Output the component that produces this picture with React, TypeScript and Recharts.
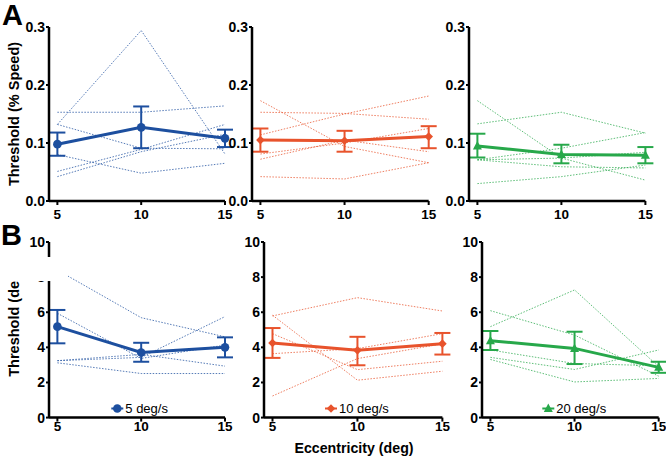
import { LineChart, Line, XAxis, YAxis, ErrorBar } from 'recharts';

// eccentricity (deg) and axis ticks
const eccentricities = [5, 10, 15];
const pctTicks = [0, 0.1, 0.2, 0.3];
const degTicks = [0, 2, 4, 6, 8, 10];

// A: threshold (% speed) — mean, error bar ends, single observers
const pctMean5 = [0.098, 0.127, 0.108];
const pctLow5 = [0.078, 0.091, 0.093];
const pctHigh5 = [0.118, 0.163, 0.123];
const pctSubj5 = [
  [0.153, 0.153, 0.164],
  [0.132, 0.294, 0.081],
  [0.132, 0.091, 0.09],
  [0.08, 0.048, 0.065],
  [0.051, 0.089, 0.132],
  [0.042, 0.085, 0.115],
];

const pctMean10 = [0.105, 0.104, 0.111];
const pctLow10 = [0.085, 0.085, 0.091];
const pctHigh10 = [0.125, 0.121, 0.129];
const pctSubj10 = [
  [0.173, 0.094, 0.066],
  [0.153, 0.151, 0.141],
  [0.114, 0.15, 0.181],
  [0.081, 0.1, 0.125],
  [0.072, 0.105, 0.085],
  [0.042, 0.038, 0.066],
];

const pctMean20 = [0.095, 0.08, 0.079];
const pctLow20 = [0.075, 0.065, 0.065];
const pctHigh20 = [0.116, 0.097, 0.093];
const pctSubj20 = [
  [0.173, 0.074, 0.036],
  [0.133, 0.153, 0.117],
  [0.071, 0.091, 0.118],
  [0.071, 0.074, 0.084],
  [0.071, 0.059, 0.057],
  [0.03, 0.042, 0.062],
];

// B: threshold (deg)
const degMean5 = [5.18, 3.71, 4.0];
const degLow5 = [4.23, 3.18, 3.43];
const degHigh5 = [6.13, 4.26, 4.57];
const degSubj5 = [
  [8.4, 5.69, 4.6],
  [5.94, 3.37, 4.13],
  [3.24, 3.43, 5.75],
  [3.24, 3.6, 2.93],
  [3.12, 2.51, 2.51],
];

const degMean10 = [4.25, 3.83, 4.21];
const degLow10 = [3.4, 2.98, 3.59];
const degHigh10 = [5.1, 4.6, 4.82];
const degSubj10 = [
  [5.79, 6.83, 6.07],
  [5.83, 2.13, 2.64],
  [4.78, 2.73, 3.21],
  [3.64, 3.93, 4.78],
  [1.23, 3.36, 4.2],
];

const degMean20 = [4.38, 3.94, 2.86];
const degLow20 = [3.85, 3.05, 2.55];
const degHigh20 = [4.93, 4.89, 3.18];
const degSubj20 = [
  [5.18, 7.27, 2.9],
  [6.09, 4.7, 2.36],
  [3.85, 3.08, 2.95],
  [3.43, 2.74, 3.85],
  [3.31, 2.03, 2.23],
];

const speedNames = ['5 deg/s', '10 deg/s', '20 deg/s'];

const FONT = '"Liberation Sans", Arial, Helvetica, sans-serif';
const BLUE = '#1d4f9f';
const ORANGE = '#e8532c';
const GREEN = '#27a84a';

type Shape = 'circle' | 'diamond' | 'triangle';

const buildRows = (mean: number[], low: number[], high: number[], subj: number[][]) =>
  eccentricities.map((e, i) => {
    const row: any = { ecc: e, mean: mean[i], err: [mean[i] - low[i], high[i] - mean[i]] };
    subj.forEach((s, j) => {
      row[`s${j}`] = s[i];
    });
    return row;
  });

function Marker({ shape, cx, cy, color }: { shape: Shape; cx: number; cy: number; color: string }) {
  if (shape === 'circle') return <circle cx={cx} cy={cy} r={4.3} fill={color} />;
  if (shape === 'diamond')
    return <polygon points={`${cx},${cy - 4.3} ${cx + 4.3},${cy} ${cx},${cy + 4.3} ${cx - 4.3},${cy}`} fill={color} />;
  return <polygon points={`${cx},${cy - 5} ${cx + 4.5},${cy + 3.5} ${cx - 4.5},${cy + 3.5}`} fill={color} />;
}

const panels = [
  { id: 'a5', row: 'A', mean: pctMean5, low: pctLow5, high: pctHigh5, subj: pctSubj5, color: BLUE, shape: 'circle' as Shape, plotLeft: 49, plotTop: 27, pw: 176, ph: 174 },
  { id: 'a10', row: 'A', mean: pctMean10, low: pctLow10, high: pctHigh10, subj: pctSubj10, color: ORANGE, shape: 'diamond' as Shape, plotLeft: 252.3, plotTop: 27, pw: 176.7, ph: 174 },
  { id: 'a20', row: 'A', mean: pctMean20, low: pctLow20, high: pctHigh20, subj: pctSubj20, color: GREEN, shape: 'triangle' as Shape, plotLeft: 469.3, plotTop: 27, pw: 176.4, ph: 174 },
  { id: 'b5', row: 'B', mean: degMean5, low: degLow5, high: degHigh5, subj: degSubj5, color: BLUE, shape: 'circle' as Shape, plotLeft: 49, plotTop: 241.7, pw: 176, ph: 175.6, legendX: 117.3, name: speedNames[0] },
  { id: 'b10', row: 'B', mean: degMean10, low: degLow10, high: degHigh10, subj: degSubj10, color: ORANGE, shape: 'diamond' as Shape, plotLeft: 264.3, plotTop: 241.7, pw: 178.4, ph: 175.6, legendX: 331, name: speedNames[1] },
  { id: 'b20', row: 'B', mean: degMean20, low: degLow20, high: degHigh20, subj: degSubj20, color: GREEN, shape: 'triangle' as Shape, plotLeft: 482.3, plotTop: 241.7, pw: 176.7, ph: 175.6, legendX: 548.3, name: speedNames[2] },
];

const YW = 45;
const MT = 8;
const MR = 8;
const XH = 30;

const xTickStyle = { fill: '#000', fontSize: 13.5, fontWeight: 700, fontFamily: FONT };
const yTickStyle = { fill: '#000', fontSize: 14, fontWeight: 700, fontFamily: FONT };
const axisLine = { stroke: '#000', strokeWidth: 2.5 };
const tickLine = { stroke: '#000', strokeWidth: 2 };

function Panel({ p }: { p: (typeof panels)[number] }) {
  const data = buildRows(p.mean, p.low, p.high, p.subj);
  const isA = p.row === 'A';
  return (
    <div style={{ position: 'absolute', left: p.plotLeft - YW, top: p.plotTop - MT }}>
      <LineChart
        width={YW + p.pw + MR}
        height={MT + p.ph + XH}
        data={data}
        margin={{ top: MT, right: MR, left: 0, bottom: 0 }}
      >
        <XAxis
          dataKey="ecc"
          type="number"
          domain={[4.5, 15]}
          ticks={eccentricities}
          height={XH}
          axisLine={axisLine}
          tickLine={tickLine}
          tickSize={4}
          tickMargin={isA ? 4 : 0}
          tick={xTickStyle}
        />
        <YAxis
          type="number"
          domain={isA ? [0, 0.3] : [0, 10]}
          ticks={isA ? pctTicks : degTicks}
          tickFormatter={(v: number) => (isA ? v.toFixed(1) : String(v))}
          width={YW}
          axisLine={axisLine}
          tickLine={tickLine}
          tickSize={3}
          tickMargin={1}
          tick={yTickStyle}
        />
        {p.subj.map((_, j) => (
          <Line
            key={j}
            dataKey={`s${j}`}
            stroke={p.color}
            strokeOpacity={0.75}
            strokeWidth={1}
            strokeDasharray="1.5 1.5"
            dot={false}
            activeDot={false}
            isAnimationActive={false}
          />
        ))}
        <Line
          dataKey="mean"
          stroke={p.color}
          strokeWidth={3}
          dot={(d: any) => <Marker key={`m${d.index}`} shape={p.shape} cx={d.cx} cy={d.cy} color={p.color} />}
          activeDot={false}
          isAnimationActive={false}
        >
          <ErrorBar dataKey="err" direction="y" width={8} stroke={p.color} strokeWidth={2} isAnimationActive={false} />
        </Line>
      </LineChart>
    </div>
  );
}

export default function App() {
  return (
    <div style={{ position: 'absolute', left: 0, top: 0, width: 666, height: 456, overflow: 'hidden', background: '#fff', fontFamily: FONT }}>
      {panels.map((p) => (
        <Panel key={p.id} p={p} />
      ))}
      <svg width={666} height={456} style={{ position: 'absolute', left: 0, top: 0, pointerEvents: 'none' }}>
        <text x={2} y={25} fontSize={29} fontWeight={700} fontFamily={FONT} fill="#000">A</text>
        <text x={1} y={245} fontSize={29} fontWeight={700} fontFamily={FONT} fill="#000">B</text>
        <text transform="translate(19,114) rotate(-90)" textAnchor="middle" fontSize={14.5} fontWeight={700} fontFamily={FONT} fill="#000">
          Threshold (% Speed)
        </text>
        <text transform="translate(19,322) rotate(-90)" textAnchor="middle" fontSize={14.5} fontWeight={700} fontFamily={FONT} fill="#000">
          Threshold (deg)
        </text>
        <text x={354} y={453} textAnchor="middle" fontSize={14.2} fontWeight={700} fontFamily={FONT} fill="#000">
          Eccentricity (deg)
        </text>
        {panels
          .filter((p) => p.row === 'B')
          .map((p) => (
            <g key={`lg-${p.id}`}>
              <line x1={(p.legendX as number) - 6} x2={(p.legendX as number) + 6} y1={408.5} y2={408.5} stroke={p.color} strokeWidth={2} />
              <Marker shape={p.shape} cx={p.legendX as number} cy={408.5} color={p.color} />
              <text x={(p.legendX as number) + 8} y={413} fontSize={13} fontFamily={FONT} fill="#000">
                {p.name}
              </text>
            </g>
          ))}
        {/* white patch over the top of panel B's first axis, as in the figure */}
        <rect x={0} y={257} width={68} height={24} fill="#fff" />
      </svg>
    </div>
  );
}
